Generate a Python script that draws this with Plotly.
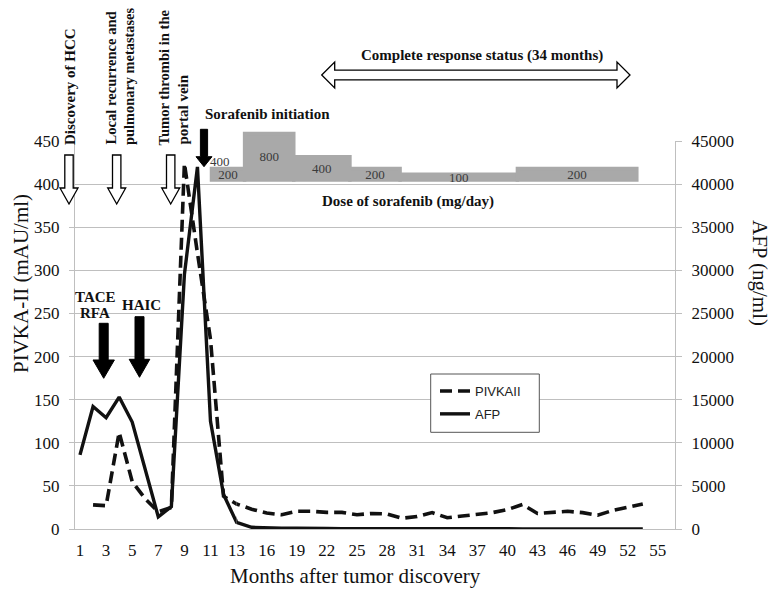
import plotly.graph_objects as go

# ------------------------------------------------------------------ data
months = [1, 2, 3, 4, 5, 6, 7, 8, 9, 10, 11, 12, 13, 14.5, 16, 17.5, 19, 20.5, 22, 23.5,
          25, 26.5, 28, 29.5, 31, 32.5, 34, 35.5, 37, 38.5, 40, 41.5, 43, 44.5, 46, 47.5,
          49, 50.5, 52, 53.5]
pivka = [None, 28, 27, 112, 55, 35, 20, 25, 424, 320, 220, 38, 29, 23, 18.5, 16.5, 20.5,
         20.5, 19.3, 19.3, 16.6, 18, 17.5, 12.5, 14.5, 19, 13, 15, 16.5, 19, 22.5, 28.5,
         18, 19.5, 20.5, 19, 16, 21.5, 25, 29]
afp = [8600, 14200, 12900, 15300, 12400, 7000, 1400, 2600, 29500, 42000, 12500, 4000, 770,
       200, 100, 80, 100, 120, 60, 40, 30, 30, 30, 20, 20, 20, 20, 20, 20, 20, 20, 20, 20,
       20, 20, 20, 20, 20, 20, 20]

early_ticks = [1, 3, 5, 7, 9, 11, 13]
late_ticks = [16, 19, 22, 25, 28, 31, 34, 37, 40, 43, 46, 49, 52, 55]
pivka_ticks = [0, 50, 100, 150, 200, 250, 300, 350, 400, 450]
afp_ticks = [0, 5000, 10000, 15000, 20000, 25000, 30000, 35000, 40000, 45000]

dose_mg = [200, 800, 400, 200, 100, 200]
dose_start = [10.5, 13.8, 18.7, 24.3, 29.3, 41.0]
dose_end = [13.8, 18.7, 24.3, 29.3, 41.0, 52.9]
initial_dose = 400

# ------------------------------------------------------------------ layout geometry
# the page body has an 8px margin, so the figure is drawn from (8, 8) of the window
OFF = 8
WIN_W, WIN_H = 778, 589
PL, PR, PT, PB = 75, 675, 125, 529      # plot area in window pixels
W, H = WIN_W - OFF, WIN_H - OFF
ML, MT = PL - OFF, PT - OFF
MR, MB = W - (PR - OFF), H - (PB - OFF)
PW, PH = PR - PL, PB - PT
SERIF = "Liberation Serif"
SANS = "Liberation Sans"
GRID = "#bfbfbf"
INK = "#111111"
BOLD = 15


def pp(x, y):
    return (x - PL) / PW, (PB - y) / PH


def poly(points):
    s = ""
    for i, (x, y) in enumerate(points):
        xp, yp = pp(x, y)
        s += ("M" if i == 0 else "L") + f"{xp:.5f},{yp:.5f} "
    return s + "Z"


y_top = (PB - 141) / PH          # top of the value axes (450 / 45000)
x_split = (236.6 - PL) / PW      # where month 13 sits

fig = go.Figure()

# dose of sorafenib bars
fig.add_trace(go.Bar(
    x=[(s + e) / 2 for s, e in zip(dose_start, dose_end)],
    width=[e - s for s, e in zip(dose_start, dose_end)],
    y=dose_mg, text=[str(d) for d in dose_mg],
    textposition="inside", insidetextanchor="middle", constraintext="none",
    textfont=dict(family=SERIF, size=13, color="#3a3a3a"),
    marker=dict(color="#a9a9a9", line=dict(color="#a9a9a9", width=3.5)),
    xaxis="x3", yaxis="y3", showlegend=False, hoverinfo="skip"))

dash_style = dict(color="#111111", width=3.6, dash="12px,6px")
solid_style = dict(color="#111111", width=3.4)
for xa, show in (("x", True), ("x2", False)):
    fig.add_trace(go.Scatter(x=months, y=pivka, mode="lines", name="PIVKAII",
                             line=dash_style, xaxis=xa, yaxis="y", showlegend=show,
                             legendgroup="p", connectgaps=False))
for xa, show in (("x", True), ("x2", False)):
    fig.add_trace(go.Scatter(x=months, y=afp, mode="lines", name="AFP",
                             line=solid_style, xaxis=xa, yaxis="y2", showlegend=show,
                             legendgroup="a"))

tickfont = dict(family=SERIF, size=17, color=INK)
xcommon = dict(showgrid=False, zeroline=False, showline=True, linecolor=GRID, linewidth=1,
               ticks="", tickfont=tickfont, anchor="y", ticklabelstandoff=6)

fig.update_layout(
    width=W, height=H,
    margin=dict(l=ML, r=MR, t=MT, b=MB, autoexpand=False),
    paper_bgcolor="white", plot_bgcolor="rgba(0,0,0,0)",
    xaxis=dict(domain=[0, x_split], range=[0.617, 13.0001], tickmode="array",
               tickvals=early_ticks, ticktext=[str(t) for t in early_ticks], **xcommon),
    xaxis2=dict(domain=[x_split, 1], range=[13, 56.71], tickmode="array",
                tickvals=late_ticks, ticktext=[str(t) for t in late_ticks], **xcommon),
    yaxis=dict(domain=[0, y_top], range=[0, 450], tickmode="array", tickvals=pivka_ticks,
               ticktext=[str(t) for t in pivka_ticks],
               showgrid=True, gridcolor=GRID, gridwidth=1, zeroline=False,
               showline=True, linecolor=GRID, ticks="outside", ticklen=5, tickcolor=GRID,
               tickfont=tickfont, anchor="x", ticklabelstandoff=6),
    yaxis2=dict(overlaying="y", side="right", anchor="x2", range=[0, 45000],
                tickmode="array", tickvals=afp_ticks, ticktext=[str(t) for t in afp_ticks],
                showgrid=False, zeroline=False,
                showline=True, linecolor=GRID, ticks="outside", ticklen=6, tickcolor=GRID,
                tickfont=tickfont, ticklabelstandoff=6),
    xaxis3=dict(domain=[0, 1], range=[-3.11, 56.71], visible=False, anchor="y3"),
    yaxis3=dict(domain=[0, 1], range=[-6007, 947], visible=False, anchor="x3"),
    legend=dict(x=pp(435, 376)[0], y=pp(435, 376)[1], xanchor="left", yanchor="top",
                bgcolor="rgba(0,0,0,0)", borderwidth=0,
                font=dict(family=SANS, size=13, color="#222222"),
                traceorder="grouped", tracegroupgap=3),
    showlegend=True,
)

ann = []


def text(x, y, s, size=BOLD, bold=True, angle=0, xa="center", ya="middle", color=INK,
         fam=SERIF):
    xp, yp = pp(x, y)
    ann.append(dict(x=xp, y=yp, xref="paper", yref="paper", showarrow=False,
                    text=f"<b>{s}</b>" if bold else s, textangle=angle,
                    xanchor=xa, yanchor=ya,
                    font=dict(family=fam, size=size, color=color)))


# vertical event labels
text(69.5, 147, "Discovery of HCC", angle=-90, ya="bottom")
text(110, 147, "Local recurrence and", size=14.6, angle=-90, ya="bottom")
text(129, 147, "pulmonary metastases", size=14.4, angle=-90, ya="bottom")
text(163.5, 148, "Tumor thrombi in the", size=14.6, angle=-90, ya="bottom")
text(182.5, 147, "portal vein", angle=-90, ya="bottom")
# treatments
text(95, 296.7, "TACE")
text(95, 313, "RFA")
text(141, 304.5, "HAIC")
text(267.5, 114, "Sorafenib initiation")
text(407.5, 201.7, "Dose of sorafenib (mg/day)")
text(481.7, 55, "Complete response status (34 months)")
text(220, 161.7, str(initial_dose), size=13, bold=False, color="#3a3a3a")
# axis titles
text(355.5, 576, "Months after tumor discovery", size=21, bold=False)
text(21, 284, "PIVKA-II (mAU/ml)", size=21, bold=False, angle=-90)
text(760, 273, "AFP (ng/ml)", size=21, bold=False, angle=90)
fig.update_layout(annotations=ann)


def down_arrow(cx, top, hs, tip, hw, hh):
    return [(cx - hw, top), (cx + hw, top), (cx + hw, hs), (cx + hh, hs), (cx, tip),
            (cx - hh, hs), (cx - hw, hs)]


shapes = []
# legend frame
lx0, ly0 = pp(430.7, 432.3)
lx1, ly1 = pp(539.3, 374)
shapes.append(dict(type="rect", xref="paper", yref="paper", x0=lx0, y0=ly0, x1=lx1, y1=ly1,
                   fillcolor="white", line=dict(color="#555555", width=1), layer="above"))
for cx in (69, 116.7, 170.7):
    shapes.append(dict(type="path", xref="paper", yref="paper",
                       path=poly(down_arrow(cx, 155, 188, 204, 4.2, 9)),
                       fillcolor="white", line=dict(color="black", width=1.3)))
for cx, top, hs, tip, hw, hh in ((204, 129.3, 156.7, 166.7, 3.6, 8),
                                 (103.7, 323.3, 360, 378.3, 4.5, 10.7),
                                 (139.5, 316.7, 359.3, 377.3, 4.5, 10.3)):
    shapes.append(dict(type="path", xref="paper", yref="paper",
                       path=poly(down_arrow(cx, top, hs, tip, hw, hh)),
                       fillcolor="black", line=dict(color="black", width=1)))
L, R, yc, sw, hl, hh = 321.7, 630, 75, 4.8, 13, 13
shapes.append(dict(type="path", xref="paper", yref="paper",
                   path=poly([(L, yc), (L + hl, yc - hh), (L + hl, yc - sw), (R - hl, yc - sw),
                              (R - hl, yc - hh), (R, yc), (R - hl, yc + hh), (R - hl, yc + sw),
                              (L + hl, yc + sw), (L + hl, yc + hh)]),
                   fillcolor="white", line=dict(color="black", width=1.3)))
fig.update_layout(shapes=shapes)

fig.write_html("out.html")
